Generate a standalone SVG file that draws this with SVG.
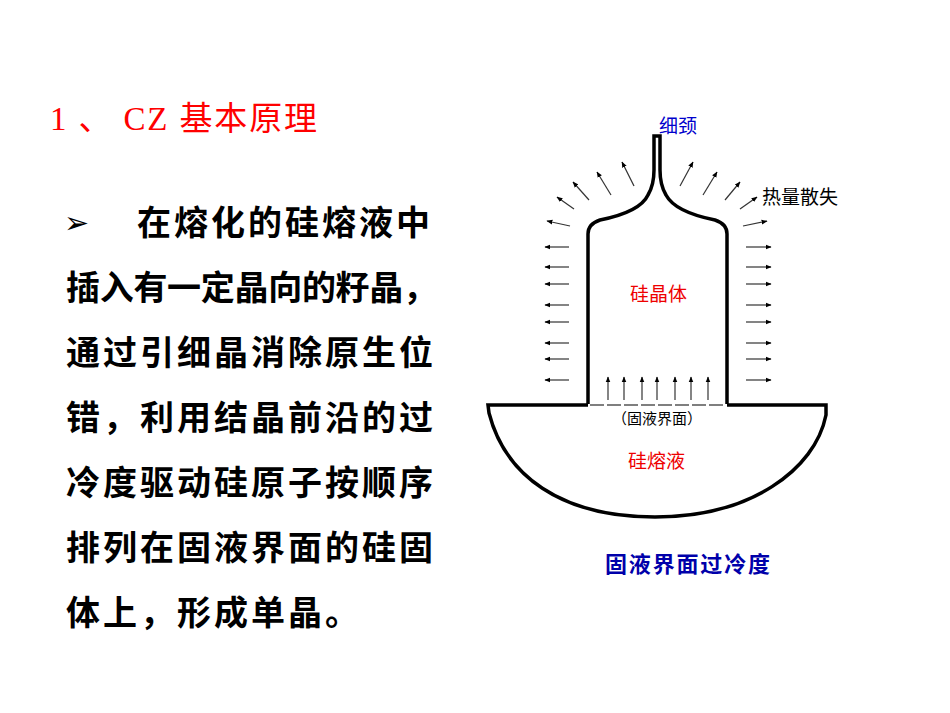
<svg xmlns="http://www.w3.org/2000/svg" width="950" height="713" viewBox="0 0 950 713">
<style>
.t{font-family:"Noto Sans CJK SC",sans-serif;font-weight:bold;font-size:34px;fill:#000}
.s{font-family:"Noto Sans CJK SC",sans-serif;font-size:19px}
.a{stroke:#333;stroke-width:1.2;marker-end:url(#ah)}
</style>
<defs><marker id="ah" viewBox="0 0 10 10" refX="9" refY="5" markerWidth="5" markerHeight="5" orient="auto"><path d="M0,1 L10,5 L0,9 z" fill="#000"/></marker></defs>
<rect width="950" height="713" fill="#fff"/>
<text x="50" y="130" font-family="'Liberation Serif','Noto Sans CJK SC',serif" font-size="33" fill="#f00" textLength="267">1 、 CZ 基本原理</text>
<g id="body">
<text x="64" y="233" font-family="'DejaVu Sans',sans-serif" font-size="30">➢</text>
<text class="t" x="137" y="235" textLength="293">在熔化的硅熔液中</text>
<text class="t" x="66" y="300" textLength="371">插入有一定晶向的籽晶，</text>
<text class="t" x="66" y="365" textLength="367">通过引细晶消除原生位</text>
<text class="t" x="66" y="430" textLength="367">错，利用结晶前沿的过</text>
<text class="t" x="66" y="495" textLength="367">冷度驱动硅原子按顺序</text>
<text class="t" x="66" y="560" textLength="367">排列在固液界面的硅固</text>
<text class="t" x="66" y="625" textLength="293">体上，形成单晶。</text>
</g>
<g id="crystal" fill="none" stroke="#000" stroke-width="3.5">
<path d="M588,404 L588,234 Q588,224 600,220 Q640,212 648,195 Q654,185 654,170 L654,136 L660,136 L660,170 Q660,185 666,195 Q675,212 715,220 Q727,224 727,234 L727,404"/>
</g>
<g id="melt" fill="none" stroke="#000" stroke-width="3.5">
<path d="M588,405 L488,405 L489,413 C505,475 560,517 655,517 C750,517 815,470 826,415 L826,405 L727,405"/>
<line x1="590" y1="405" x2="725" y2="405" stroke-width="1.2" stroke-dasharray="14,3"/>
</g>
<g id="connectors">
<line class="a" x1="569" y1="247" x2="545" y2="247"/><line class="a" x1="569" y1="267" x2="545" y2="267"/>
<line class="a" x1="569" y1="284" x2="545" y2="284"/><line class="a" x1="569" y1="305" x2="545" y2="305"/>
<line class="a" x1="569" y1="322" x2="545" y2="322"/><line class="a" x1="569" y1="343" x2="545" y2="343"/>
<line class="a" x1="569" y1="359" x2="545" y2="359"/><line class="a" x1="569" y1="380" x2="545" y2="380"/>
<line class="a" x1="746" y1="247" x2="771" y2="247"/><line class="a" x1="746" y1="267" x2="771" y2="267"/>
<line class="a" x1="746" y1="284" x2="771" y2="284"/><line class="a" x1="746" y1="305" x2="771" y2="305"/>
<line class="a" x1="746" y1="322" x2="771" y2="322"/><line class="a" x1="746" y1="343" x2="771" y2="343"/>
<line class="a" x1="746" y1="359" x2="771" y2="359"/><line class="a" x1="746" y1="380" x2="771" y2="380"/>
<line class="a" x1="570" y1="226" x2="547" y2="221"/><line class="a" x1="574" y1="209" x2="557" y2="197"/>
<line class="a" x1="589" y1="200" x2="573" y2="182"/><line class="a" x1="611" y1="195" x2="597" y2="172"/>
<line class="a" x1="634" y1="186" x2="622" y2="162"/>
<line class="a" x1="680" y1="186" x2="693" y2="162"/><line class="a" x1="703" y1="195" x2="717" y2="172"/>
<line class="a" x1="725" y1="200" x2="740" y2="182"/><line class="a" x1="740" y1="209" x2="757" y2="197"/>
<line class="a" x1="743" y1="226" x2="767" y2="221"/>
<line class="a" x1="608" y1="400" x2="608" y2="377"/><line class="a" x1="624" y1="400" x2="624" y2="377"/>
<line class="a" x1="642" y1="400" x2="642" y2="377"/><line class="a" x1="657" y1="400" x2="657" y2="377"/>
<line class="a" x1="675" y1="400" x2="675" y2="377"/><line class="a" x1="691" y1="400" x2="691" y2="377"/>
<line class="a" x1="708" y1="400" x2="708" y2="377"/>
</g>
<g id="labels">
<text class="s" x="659" y="133" fill="#0000cc">细颈</text>
<text class="s" x="762" y="204" fill="#000">热量散失</text>
<text class="s" x="630" y="301" fill="#e00">硅晶体</text>
<text x="612" y="424" font-family="'Noto Sans CJK SC',sans-serif" font-size="15" fill="#000">（固液界面）</text>
<text class="s" x="628" y="468" fill="#e00">硅熔液</text>
<text x="605" y="572" font-family="'Noto Sans CJK SC',sans-serif" font-size="22" font-weight="bold" fill="#0000aa" textLength="165">固液界面过冷度</text>
</g>
</svg>
